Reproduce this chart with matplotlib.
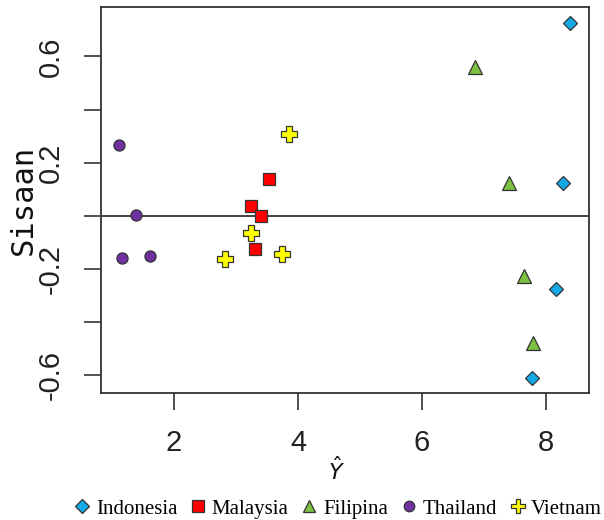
import matplotlib
matplotlib.use("Agg")
import matplotlib.pyplot as plt
from matplotlib.lines import Line2D

# fitted values (Y hat) and residuals per country
countries = ["Indonesia", "Malaysia", "Filipina", "Thailand", "Vietnam"]
yhat = {
    "Indonesia": [8.39, 8.28, 8.17, 7.77],
    "Malaysia": [3.54, 3.25, 3.40, 3.31],
    "Filipina": [6.86, 7.40, 7.64, 7.79],
    "Thailand": [1.12, 1.39, 1.16, 1.62],
    "Vietnam": [3.85, 3.24, 2.83, 3.74],
}
resid = {
    "Indonesia": [0.725, 0.124, -0.276, -0.611],
    "Malaysia": [0.139, 0.038, 0.000, -0.125],
    "Filipina": [0.562, 0.125, -0.226, -0.477],
    "Thailand": [0.268, 0.005, -0.159, -0.149],
    "Vietnam": [0.308, -0.065, -0.162, -0.144],
}
x_ticks = [2, 4, 6, 8]
y_ticks = [-0.6, -0.4, -0.2, 0.0, 0.2, 0.4, 0.6]
y_ticklabels = ["-0.6", "", "-0.2", "", "0.2", "", "0.6"]

styles = {
    "Indonesia": dict(marker="D", color="#13A8E6", ms=7.2),
    "Malaysia": dict(marker="s", color="#FF0000", ms=8.4),
    "Filipina": dict(marker="^", color="#7DC142", ms=9.8),
    "Thailand": dict(marker="o", color="#7030A0", ms=8.0),
    "Vietnam": dict(marker="P", color="#FFFF00", ms=11.0),
}

fig = plt.figure(figsize=(6.04, 5.2), dpi=100)
ax = fig.add_axes([0.1667, 0.2442, 0.8077, 0.7418])

ax.axhline(0, color="#222222", linewidth=1.2, zorder=1)

for c in countries:
    st = styles[c]
    ax.plot(yhat[c], resid[c], linestyle="", marker=st["marker"], markersize=st["ms"],
            markerfacecolor=st["color"], markeredgecolor="#333333", markeredgewidth=0.9, zorder=3)

ax.set_xlim(0.817, 8.688)
ax.set_ylim(-0.666, 0.785)
ax.set_xticks(x_ticks)
ax.set_yticks(y_ticks)
ax.set_yticklabels(y_ticklabels, rotation=90, va="center")

for lab in ax.get_xticklabels() + ax.get_yticklabels():
    lab.set_fontfamily("Liberation Sans")
    lab.set_fontsize(21)
    lab.set_color("#222222")
ax.tick_params(axis="both", length=12, width=1.2, color="#333333")
ax.tick_params(axis="x", pad=14)
ax.tick_params(axis="y", pad=14)

for sp in ax.spines.values():
    sp.set_color("#333333")
    sp.set_linewidth(1.3)

ax.set_ylabel("Sisaan", fontfamily="DejaVu Sans Mono", fontsize=22, color="#111111")
ax.yaxis.set_label_coords(-0.128, 0.5)
plt.rcParams["mathtext.fontset"] = "stix"
ax.set_xlabel(r"$\hat{Y}$", fontsize=16, color="#111111")
ax.xaxis.set_label_coords((336 - 100.7) / 487.6, -0.165)

handles = [Line2D([], [], linestyle="", marker=styles[c]["marker"], markersize=styles[c]["ms"] * 0.95,
                  markerfacecolor=styles[c]["color"], markeredgecolor="#333333", markeredgewidth=0.9)
           for c in countries]
fig.legend(handles, countries, loc="center", bbox_to_anchor=(339 / 604, 1 - 509 / 520), ncol=5,
           frameon=False, prop={"family": "Liberation Serif", "size": 15},
           handlelength=0.6, handletextpad=0.35, columnspacing=0.7, borderaxespad=0, borderpad=0)

fig.savefig("out.png", dpi=100)
